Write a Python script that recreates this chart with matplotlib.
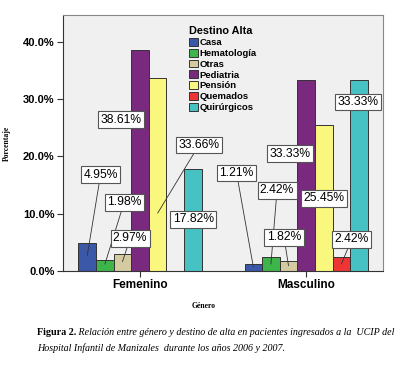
import numpy as np
import matplotlib.pyplot as plt

# data (percent within each gender)
groups = ['Femenino', 'Masculino']
destinos = ['Casa', 'Hematología', 'Otras', 'Pediatria', 'Pensión', 'Quemados', 'Quirúrgicos']
femenino = [4.95, 1.98, 2.97, 38.61, 33.66, 0.0, 17.82]
masculino = [1.21, 2.42, 1.82, 33.33, 25.45, 2.42, 33.33]
yticks = [0, 10, 20, 30, 40]

colors = ['#3B57A8', '#3DB54A', '#D4CCA0', '#7A2A7E', '#FAF77E', '#EE3535', '#46C2C4']

# where each label box sits (data coords) and where its leader ends
# (fraction of bar height, None = box sits on its bar, no visible leader)
lab_pos = [
    [(-0.238, 16.8), (-0.096, 12.0), (-0.06, 5.7), (-0.114, 26.4), (0.355, 22.0), None, (0.32, 9.0)],
    [(0.581, 17.1), (0.825, 14.1), (0.867, 5.9), (0.904, 20.5), (1.108, 12.7), (1.274, 5.5), (1.313, 29.5)],
]
lead_end = [
    [0.55, 0.6, 0.55, None, 0.3, None, None],
    [0.6, 0.5, 0.5, None, None, 0.5, None],
]

plt.rcParams['font.family'] = ['Liberation Sans', 'DejaVu Sans']

fig = plt.figure(figsize=(4.12, 3.72), dpi=100)
ax = fig.add_axes([0.153, 0.2715, 0.777, 0.6885])
ax.set_facecolor('#F0F0F0')

w = 0.106
x = np.arange(len(groups))
data = [femenino, masculino]
for i, d in enumerate(destinos):
    vals = [femenino[i], masculino[i]]
    ax.bar(x + (i - 3) * w, vals, w, color=colors[i], edgecolor='#333333',
           linewidth=0.7, label=d, zorder=2)

# value labels with leader lines
box = dict(boxstyle='square,pad=0.2', fc='white', ec='#555555', lw=0.8)
for g in range(len(groups)):
    for i in range(len(destinos)):
        pos = lab_pos[g][i]
        if pos is None:
            continue
        v = data[g][i]
        bx = x[g] + (i - 3) * w
        if lead_end[g][i] is None:
            ax.text(pos[0], pos[1], '%.2f%%' % v, ha='center', va='center',
                    fontsize=8.7, zorder=5, bbox=box)
        else:
            ax.annotate('%.2f%%' % v, xy=(bx, v * lead_end[g][i]), xytext=pos,
                        ha='center', va='center', fontsize=8.7, zorder=5, bbox=box,
                        arrowprops=dict(arrowstyle='-', color='#333333', lw=0.6,
                                        shrinkA=0, shrinkB=0))

ax.set_xlim(-0.464, 1.464)
ax.set_ylim(0, 44.7)
ax.set_yticks(yticks)
ax.set_yticklabels(['%.1f%%' % t for t in yticks], fontsize=8, fontweight='bold')
ax.set_xticks(x)
ax.set_xticklabels(groups, fontsize=8.5, fontweight='bold')
ax.tick_params(length=4, width=0.8, color='#333333', pad=2)
for s in ax.spines.values():
    s.set_color('#888888')
    s.set_linewidth(0.8)
ax.spines['bottom'].set_color('#333333')
ax.spines['left'].set_color('#333333')

leg = ax.legend(loc='upper left', bbox_to_anchor=(0.395, 0.955), frameon=False,
                title='Destino Alta', alignment='left', fontsize=6.8,
                title_fontproperties={'weight': 'bold', 'size': 7.8},
                handlelength=0.9, handleheight=0.9, handletextpad=0.2,
                labelspacing=0.17, borderaxespad=0, borderpad=0)
for t in leg.get_texts():
    t.set_fontweight('bold')

ax.set_ylabel('Porcentaje', family='Liberation Serif', fontsize=5.5, fontweight='bold')
ax.yaxis.set_label_coords(-0.163, 0.5)
ax.set_xlabel('Género', family='Liberation Serif', fontsize=5.5, fontweight='bold')
ax.xaxis.set_label_coords(0.44, -0.12)

t1 = fig.text(0.09, 1 - 335 / 372, 'Figura 2.', family='Liberation Serif',
              fontsize=7.3, fontweight='bold', va='baseline')
ax.annotate(' Relación entre género y destino de alta en pacientes ingresados a la  UCIP del',
            xy=(1, 0), xycoords=t1, va='bottom', ha='left', family='Liberation Serif',
            fontsize=7.2, style='italic', annotation_clip=False)
fig.text(0.09, 1 - 351 / 372, 'Hospital Infantil de Manizales  durante los años 2006 y 2007.',
         family='Liberation Serif', fontsize=7.2, style='italic', va='baseline')

fig.savefig('out.png', dpi=100)
